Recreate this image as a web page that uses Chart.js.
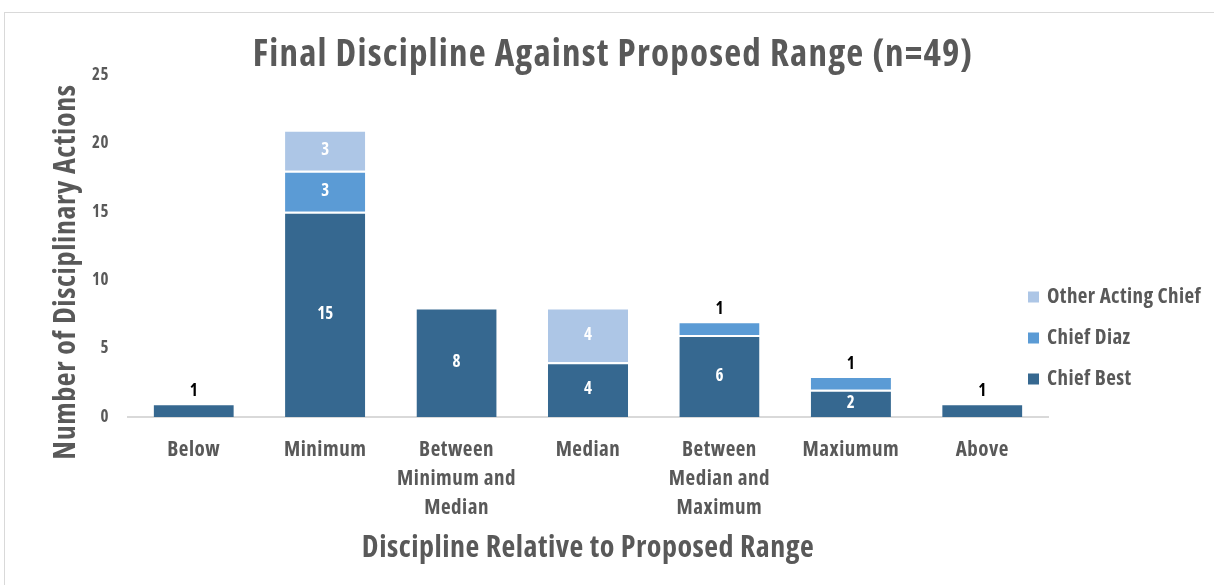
<!DOCTYPE html>
<html>
<head>
<meta charset="utf-8">
<script src="https://cdn.jsdelivr.net/npm/chart.js@4.4.1/dist/chart.umd.min.js"></script>
<style>
  html, body { margin: 0; padding: 0; background: #fff; overflow: hidden; }
  #wrap { position: relative; width: 1214px; height: 585px; }
  #frame { position: absolute; left: 4px; top: 12px; width: 1300px; height: 700px; border-left: 1px solid #d9d9d9; border-top: 1px solid #d9d9d9; pointer-events: none; }
  canvas { position: absolute; left: 0; top: 0; }
</style>
</head>
<body>
<div id="wrap">
  <canvas id="c" width="1214" height="585"></canvas>
  <div id="frame"></div>
</div>
<script>
const FONT = '"Open Sans", "DejaVu Sans Condensed", sans-serif';
const W = 'bold condensed';
const TEXT = '#595959';

const categories = [
  'Below',
  'Minimum',
  ['Between', 'Minimum and', 'Median'],
  'Median',
  ['Between', 'Median and', 'Maximum'],
  'Maxiumum',
  'Above'
];
const chiefBest = [1, 15, 8, 4, 6, 2, 1];
const chiefDiaz = [null, 3, null, null, 1, 1, null];
const otherActingChief = [null, 3, null, 4, null, null, null];
const yTicks = [0, 5, 10, 15, 20, 25];

const seriesLabels = ['Chief Best', 'Chief Diaz', 'Other Acting Chief'];
const seriesColors = ['#366890', '#5B9BD5', '#ADC6E6'];

const chartTitle = 'Final Discipline Against Proposed Range (n=49)';
const xTitle = 'Discipline Relative to Proposed Range';
const yTitle = 'Number of Disciplinary Actions';

const spacingPlugin = {
  id: 'letterSpacing',
  beforeUpdate(chart) { chart.ctx.letterSpacing = '0.5px'; },
  beforeLayout(chart) { chart.ctx.letterSpacing = '0.5px'; },
  beforeDraw(chart) { chart.ctx.letterSpacing = '0.5px'; }
};

const labelPlugin = {
  id: 'segLabels',
  afterDatasetsDraw(chart) {
    const ctx = chart.ctx;
    ctx.save();
    ctx.letterSpacing = '0px';
    ctx.font = W + ' 17px ' + FONT;
    ctx.textAlign = 'center';
    ctx.textBaseline = 'middle';
    chart.data.datasets.forEach((ds, di) => {
      const meta = chart.getDatasetMeta(di);
      meta.data.forEach((bar, i) => {
        const v = ds.data[i];
        if (v == null) return;
        if (v === 1) {
          ctx.fillStyle = '#000';
          ctx.fillText(String(v), bar.x, bar.y - 12);
        } else {
          ctx.fillStyle = '#fff';
          ctx.fillText(String(v), bar.x, (bar.y + bar.base) / 2);
        }
      });
    });
    ctx.restore();
  }
};

const textPlugin = {
  id: 'texts',
  afterDraw(chart) {
    const ctx = chart.ctx;
    ctx.save();
    // legend (reverse order)
    ctx.letterSpacing = '0.4px';
    ctx.font = W + ' 21px ' + FONT;
    ctx.textBaseline = 'middle';
    ctx.textAlign = 'left';
    const ds = chart.data.datasets;
    const startY = 297, gap = 41, boxX = 1028, box = 11;
    for (let k = 0; k < ds.length; k++) {
      const d = ds[ds.length - 1 - k];
      const y = startY + k * gap;
      ctx.fillStyle = d.backgroundColor;
      ctx.fillRect(boxX, y - box / 2, box, box);
      ctx.fillStyle = TEXT;
      ctx.fillText(d.label, boxX + 19, y);
    }
    // main title
    ctx.letterSpacing = '1.2px';
    ctx.font = W + ' 37px ' + FONT;
    ctx.textAlign = 'center';
    ctx.fillStyle = TEXT;
    ctx.fillText(chartTitle, 613, 55);
    // y axis title
    ctx.letterSpacing = '0.6px';
    ctx.font = W + ' 30px ' + FONT;
    ctx.translate(66, 272);
    ctx.rotate(-Math.PI / 2);
    ctx.fillText(yTitle, 0, 0);
    ctx.restore();
  }
};

new Chart(document.getElementById('c'), {
  type: 'bar',
  data: {
    labels: categories,
    datasets: [
      { label: seriesLabels[0], data: chiefBest, backgroundColor: seriesColors[0] },
      { label: seriesLabels[1], data: chiefDiaz, backgroundColor: seriesColors[1] },
      { label: seriesLabels[2], data: otherActingChief, backgroundColor: seriesColors[2] }
    ].map(d => Object.assign(d, {
      borderColor: '#ffffff',
      borderWidth: { top: 2, left: 0, right: 0, bottom: 0 },
      borderSkipped: false,
      barPercentage: 1,
      categoryPercentage: 0.61
    }))
  },
  options: {
    responsive: false,
    animation: false,
    layout: { padding: { top: 75, left: 48, right: 166, bottom: 19 } },
    plugins: {
      legend: { display: false },
      tooltip: { enabled: false },
      title: { display: false }
    },
    scales: {
      x: {
        stacked: true,
        grid: { display: false },
        border: { display: true, color: '#d9d9d9', width: 2 },
        ticks: { color: TEXT, font: { family: FONT, size: 21, weight: W, lineHeight: 1.38 }, padding: 11, maxRotation: 0, autoSkip: false },
        title: { display: true, text: xTitle, color: TEXT, font: { family: FONT, size: 30, weight: W, lineHeight: 1.2 }, padding: 0 },
        afterFit(scale) { scale.height = 149; }
      },
      y: {
        stacked: true,
        min: 0,
        max: 25,
        afterBuildTicks(scale) { scale.ticks = yTicks.map(v => ({ value: v })); },
        grid: { display: false },
        border: { display: false },
        ticks: { color: TEXT, font: { family: FONT, size: 17, weight: W }, padding: 11 },
        title: { display: false },
        afterFit(scale) { scale.width = 80; }
      }
    }
  },
  plugins: [spacingPlugin, labelPlugin, textPlugin]
});
</script>
</body>
</html>
